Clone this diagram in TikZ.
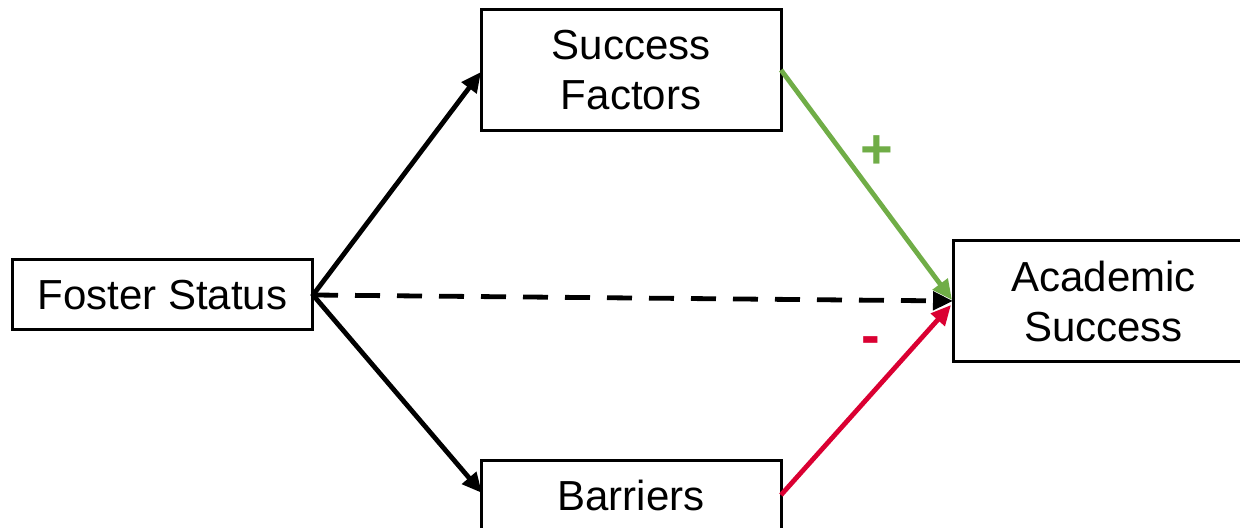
\documentclass[tikz,border=0pt]{standalone}
\usepackage{fontspec}
\setmainfont{Liberation Sans}
\usetikzlibrary{arrows.meta}
\definecolor{plusgreen}{RGB}{112,173,71}
\definecolor{minusred}{RGB}{218,0,50}
\begin{document}
\begin{tikzpicture}[x=0.5pt,y=-0.5pt,
  box/.style={draw=black,line width=1.5pt,fill=white,rectangle,align=center,
    font=\fontsize{21}{25}\selectfont,inner sep=0pt,minimum width=150pt},
  conn/.style={line width=2.4pt,-{Triangle[length=10pt,width=9pt]}},
  sign/.style={font=\fontsize{28}{30}\selectfont\bfseries,inner sep=0pt}]
\useasboundingbox (0,0) rectangle (1240,528);
\clip (0,0) rectangle (1240,528);
\node[box,minimum height=35pt] (foster) at (162.5,295) {Foster Status};
\node[box,minimum height=60.5pt] (succ) at (631,70.5) {Success\\Factors};
\node[box,minimum height=35pt] (barr) at (631,495) {Barriers};
\node[box,minimum height=60.5pt,anchor=west] (acad) at (952,301.5) {Academic\\Success};
\coordinate (fo) at (313,295);
\coordinate (sl) at (481,72);
\coordinate (bl) at (482,493);
\coordinate (sr) at (781,70);
\coordinate (br) at (781,495);
\coordinate (at1) at (952,300);
\coordinate (at2) at (953,301);
\coordinate (at3) at (951,305);
\draw[conn,line cap=round] (fo) -- (sl);
\draw[conn,line cap=round] (fo) -- (bl);
\draw[conn,dash pattern=on 12.5pt off 8.5pt] (fo) -- (at2);
\draw[conn,plusgreen] (sr) -- (at1);
\draw[conn,minusred] (br) -- (at3);
\node[sign,text=plusgreen] (plus) at (877,152) {+};
\node[sign,text=minusred] (minus) at (871,346) {-};
\end{tikzpicture}
\end{document}
